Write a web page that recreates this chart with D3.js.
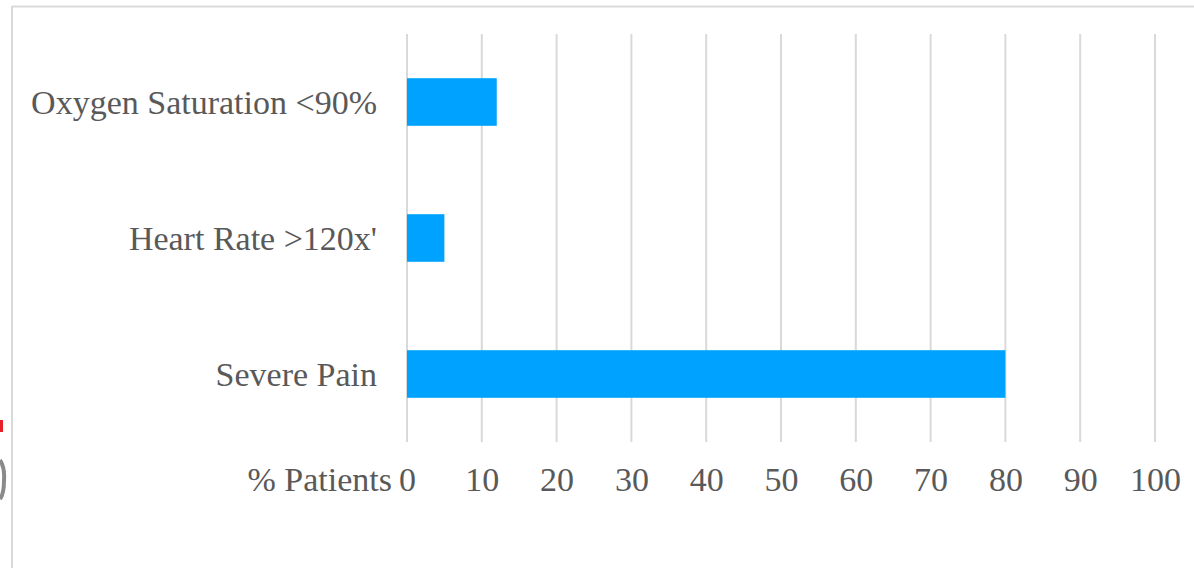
<!DOCTYPE html>
<html><head><meta charset="utf-8">
<script src="https://cdn.jsdelivr.net/npm/d3@7"></script>
<style>html,body{margin:0;padding:0;background:#fff;overflow:hidden}</style>
</head><body>
<script>
const categories = ["Oxygen Saturation <90%", "Heart Rate >120x'", "Severe Pain"];
const values = [12, 5, 80];
const tickValues = [0,10,20,30,40,50,60,70,80,90,100];
const axisTitle = "% Patients";

const W = 1194, H = 568;
const svg = d3.select("body").append("svg").attr("width", W).attr("height", H);
const font = "'Liberation Serif','Times New Roman',serif";
const textColor = "#595959";
const fs = 34;

// frame
svg.append("line").attr("x1",12).attr("x2",W).attr("y1",6.5).attr("y2",6.5).attr("stroke","#d9d9d9").attr("stroke-width",2);
svg.append("line").attr("x1",12).attr("x2",12).attr("y1",6).attr("y2",H).attr("stroke","#d9d9d9").attr("stroke-width",2);
// left-edge artifacts (cropped neighbouring content)
svg.append("rect").attr("x",0).attr("y",420).attr("width",3).attr("height",12).attr("fill","#e8202a");
svg.append("path").attr("d","M0,460 Q5,468 4,480 Q4,494 0,499").attr("fill","none").attr("stroke","#8a8a8a").attr("stroke-width",4);

const x = d3.scaleLinear().domain([0,100]).range([407,1155]);
const y = d3.scaleBand().domain(categories).range([34,442]).paddingInner(0.65).paddingOuter(0.325);

// gridlines
svg.append("g").selectAll("line").data(tickValues).join("line")
  .attr("x1",d=>x(d)).attr("x2",d=>x(d)).attr("y1",34).attr("y2",442)
  .attr("stroke","#d9d9d9").attr("stroke-width",2);

// bars
svg.append("g").selectAll("rect").data(categories).join("rect")
  .attr("x",x(0)).attr("y",d=>y(d)).attr("height",y.bandwidth())
  .attr("width",(d,i)=>x(values[i])-x(0)).attr("fill","#00a2ff");

// x axis labels
const xAxis = d3.axisBottom(x).tickValues(tickValues).tickSize(0).tickPadding(0);
const gx = svg.append("g").attr("transform","translate(0,467)").call(xAxis);
gx.select(".domain").remove();
gx.selectAll("text").attr("font-family",font).attr("font-size",fs).attr("fill",textColor).attr("dy","0.71em");

svg.append("text").attr("x",392).attr("y",491).attr("text-anchor","end")
  .attr("font-family",font).attr("font-size",fs).attr("fill",textColor).text(axisTitle);

// y axis labels
const yAxis = d3.axisLeft(y).tickSize(0).tickPadding(0);
const gy = svg.append("g").attr("transform","translate(377,0)").call(yAxis);
gy.select(".domain").remove();
gy.selectAll("text").attr("font-family",font).attr("font-size",fs).attr("fill",textColor).attr("dy","0.34em");
</script>
</body></html>
